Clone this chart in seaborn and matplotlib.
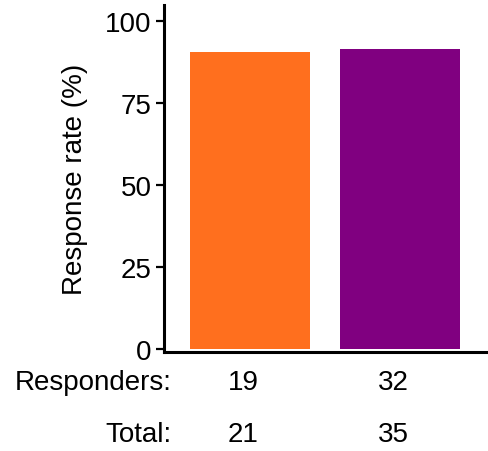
import matplotlib
matplotlib.use("Agg")
import matplotlib.pyplot as plt
import seaborn as sns
import pandas as pd

groups = ["A", "B"]
responders = [19, 32]
totals = [21, 35]
colors = ["#FF6F1E", "#800080"]
yticks = [0, 25, 50, 75, 100]

rates = [100 * r / t for r, t in zip(responders, totals)]
df = pd.DataFrame({"group": groups, "rate": rates})

sns.set_style("white")
plt.rcParams["font.family"] = ["Liberation Sans", "DejaVu Sans"]
plt.rcParams["text.color"] = "black"
plt.rcParams["axes.labelcolor"] = "black"

FS = 20

fig = plt.figure(figsize=(4.88, 4.52), dpi=100)
ax = fig.add_axes([164 / 488, 1 - 353 / 452, 1 - 164 / 488, (353 - 6) / 452])

sns.barplot(data=df, x="group", y="rate", hue="group", palette=colors,
            width=0.8, legend=False, ax=ax, saturation=1,
            edgecolor="none")

ax.set_xlim(-0.57, 1.59)
ax.set_ylim(-0.9, 104.9)
ax.set_yticks(yticks)
ax.set_yticklabels([str(v) for v in yticks], fontsize=FS)
ax.set_xticks([])
ax.set_xlabel("")
ax.set_ylabel("Response rate (%)", fontsize=FS, labelpad=12)

for side in ["top", "right"]:
    ax.spines[side].set_visible(False)
for side in ["left", "bottom"]:
    ax.spines[side].set_linewidth(2.2)
    ax.spines[side].set_color("black")
ax.tick_params(axis="y", left=True, length=6, width=1.6, pad=3,
               colors="black", labelcolor="black")

# counts table under the bars
row_y = [383, 435]
row_names = ["Responders:", "Total:"]
row_vals = [responders, totals]
for yy, name, vals in zip(row_y, row_names, row_vals):
    fig.text(172 / 488, 1 - yy / 452, name, ha="right", va="center",
             fontsize=FS, color="black")
    for i, v in enumerate(vals):
        ax.annotate(str(v), xy=(i, 1 - yy / 452),
                    xycoords=("data", "figure fraction"),
                    xytext=(-4.5, 0), textcoords="offset points",
                    ha="center", va="center", fontsize=FS, color="black",
                    annotation_clip=False)

fig.savefig("out.png", dpi=100)
